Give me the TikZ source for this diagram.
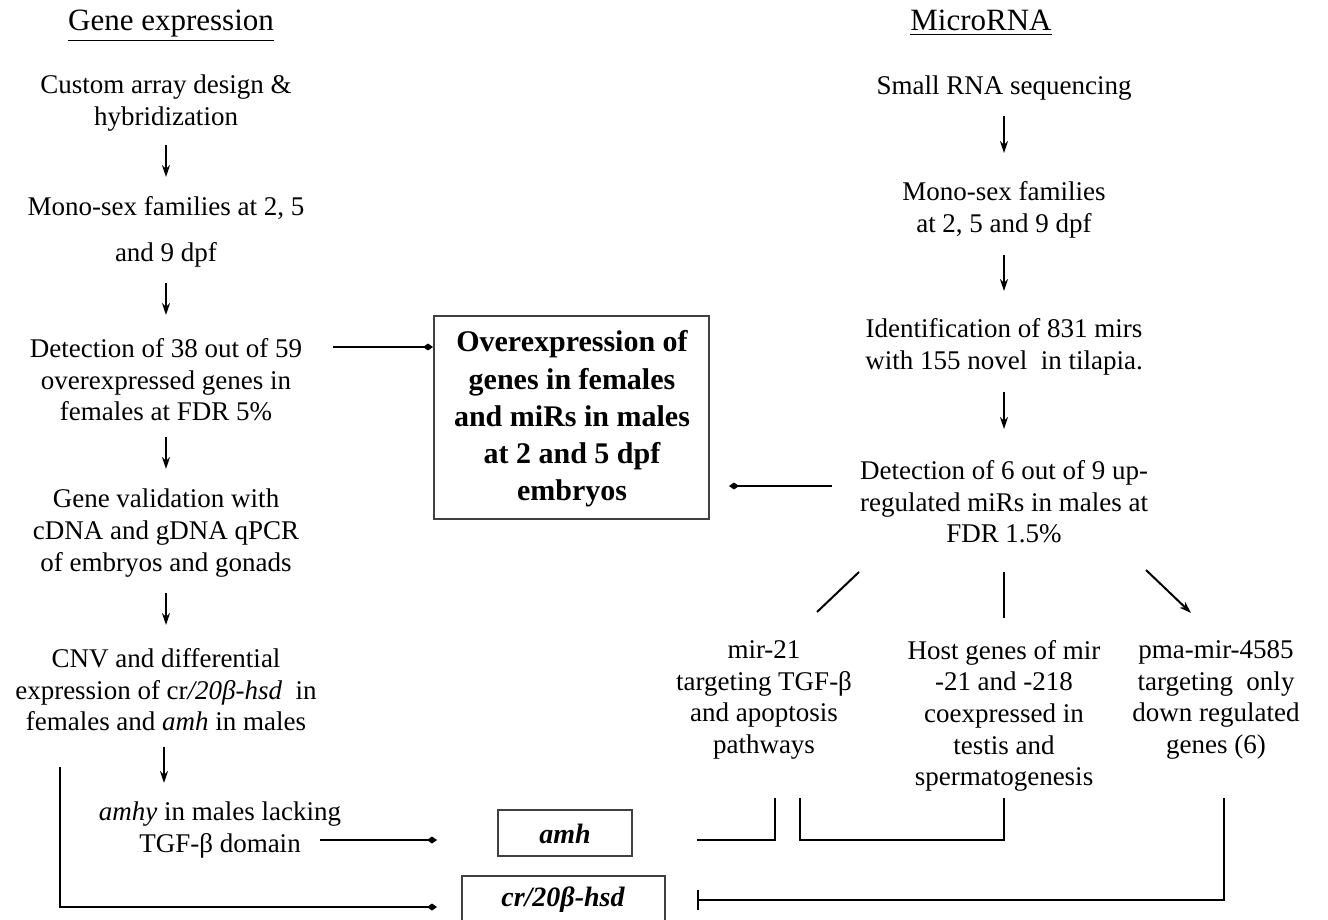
\documentclass[tikz,border=0pt]{standalone}
\usepackage{fontspec}
\setmainfont{Liberation Serif}
\usetikzlibrary{arrows.meta}
\begin{document}
\begin{tikzpicture}[x=0.5pt,y=-0.5pt,
  txt/.style={align=center,inner sep=0pt,font=\fontsize{13.5}{15.8}\selectfont},
  head/.style={align=center,inner sep=0pt,anchor=base,font=\fontsize{15.5}{17}\selectfont},
  bx/.style={draw=black!75,line width=0.7pt},
  ln/.style={line width=1pt},
  arr/.style={line width=1pt,-{Stealth[length=6pt,width=4pt]}},
  dia/.style={line width=1pt,-{Diamond[length=5pt,width=3.5pt]}},
  inh/.style={line width=1pt,-{Bar[width=10pt]}}]
\useasboundingbox[fill=white] (0,0) rectangle (1328,920);
% headings
\node[head] (hG) at (171,31) {\underline{Gene expression}};
\node[head] (hM) at (981,31) {\underline{MicroRNA}};
% left column
\node[txt] (L1) at (166,103) {Custom array design \&\\hybridization};
\node[txt] (L2) at (166,232) {Mono-sex families at 2, 5\\[7pt]and 9 dpf};
\node[txt] (L3) at (166,380) {Detection of 38 out of 59\\overexpressed genes in\\females at FDR 5\%};
\node[txt] (L4) at (166,533) {Gene validation with\\cDNA and gDNA qPCR\\of embryos and gonads};
\node[txt] (L5) at (166,690) {CNV and differential\\expression of cr\textit{/20β-hsd}~ in\\females and \textit{amh} in males};
\node[txt] (L6) at (220,830) {\textit{amhy} in males lacking\\TGF-β domain};
% centre boxes
\draw[bx] (434,316) rectangle (709,519);
\node[txt,font=\fontsize{15}{18.6}\selectfont\bfseries] (Ct) at (572,419) {Overexpression of\\genes in females\\and miRs in males\\at 2 and 5 dpf\\embryos};
\draw[bx] (498,810) rectangle (632,856);
\node[txt,font=\fontsize{14}{15}\selectfont\bfseries\itshape] (amh) at (565,834) {amh};
\draw[bx] (462,876) rectangle (665,935);
\node[txt,font=\fontsize{14}{15}\selectfont\bfseries\itshape] (cr) at (563,900) {cr/20β-hsd};
% right column
\node[txt] (R1) at (1004,88) {Small RNA sequencing};
\node[txt] (R2) at (1004,210) {Mono-sex families\\at 2, 5 and 9 dpf};
\node[txt] (R3) at (1004,347) {Identification of 831 mirs\\with 155 novel~ in tilapia.};
\node[txt] (R4) at (1004,502) {Detection of 6 out of 9 up-\\regulated miRs in males at\\FDR 1.5\%};
\node[txt] (S1) at (764,700) {mir-21\\targeting TGF-β\\and apoptosis\\pathways};
\node[txt] (S2) at (1004,716) {Host genes of mir\\-21 and -218\\coexpressed in\\testis and\\spermatogenesis};
\node[txt] (S3) at (1216,700) {pma-mir-4585\\targeting~ only\\down regulated\\genes (6)};
% coordinates
\coordinate (a1) at (166,145); \coordinate (a2) at (166,177);
\coordinate (b1) at (166,283); \coordinate (b2) at (166,315);
\coordinate (c1) at (166,437); \coordinate (c2) at (166,469);
\coordinate (d1) at (166,593); \coordinate (d2) at (166,625);
\coordinate (e1) at (164,747); \coordinate (e2) at (164,783);
\coordinate (r1) at (1004,116); \coordinate (r2) at (1004,153);
\coordinate (r3) at (1004,255); \coordinate (r4) at (1004,291);
\coordinate (r5) at (1004,392); \coordinate (r6) at (1004,429);
\coordinate (g1) at (333,347); \coordinate (g2) at (433,347);
\coordinate (m1) at (832,486); \coordinate (m2) at (729,486);
\coordinate (s1a) at (859,572); \coordinate (s1b) at (817,612);
\coordinate (s2a) at (1004,572); \coordinate (s2b) at (1004,618);
\coordinate (s3a) at (1146,570); \coordinate (s3b) at (1191,613);
\coordinate (h1) at (320,840); \coordinate (h2) at (437,840);
\coordinate (k1) at (60,767); \coordinate (k2) at (437,907);
\coordinate (q1) at (697,840); \coordinate (q2) at (775,798);
\coordinate (q3) at (800,798); \coordinate (q4) at (1004,798);
\coordinate (p1) at (1224,798); \coordinate (p2) at (697,900);
% connectors
\draw[arr] (a1) -- (a2);
\draw[arr] (b1) -- (b2);
\draw[arr] (c1) -- (c2);
\draw[arr] (d1) -- (d2);
\draw[arr] (e1) -- (e2);
\draw[arr] (r1) -- (r2);
\draw[arr] (r3) -- (r4);
\draw[arr] (r5) -- (r6);
\draw[dia] (g1) -- (g2);
\draw[dia] (m1) -- (m2);
\draw[ln] (s1a) -- (s1b);
\draw[ln] (s2a) -- (s2b);
\draw[arr] (s3a) -- (s3b);
\draw[dia] (h1) -- (h2);
\draw[dia] (k1) |- (k2);
\draw[ln] (q1) -| (q2);
\draw[ln] (q3) |- (q4 |- q1) -- (q4);
\draw[inh] (p1) |- (p2);
\end{tikzpicture}
\end{document}
